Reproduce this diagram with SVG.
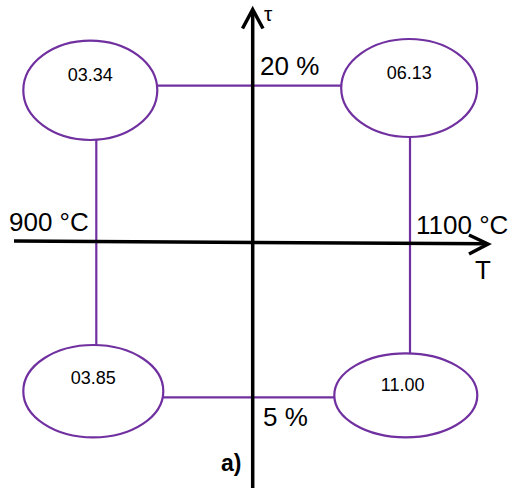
<svg xmlns="http://www.w3.org/2000/svg" width="514" height="488" viewBox="0 0 514 488">
<style>
.node{fill:#fff;stroke:#7030A0;stroke-width:2.2}
.link{stroke:#7030A0;stroke-width:2.2;fill:none}
.axis{stroke:#000;stroke-width:3.5;fill:none;stroke-linecap:butt}
.head{stroke:#000;stroke-width:3.5;fill:none;stroke-linejoin:miter}
.nt{font-family:"Liberation Sans",Arial,sans-serif;font-size:18px;fill:#000;text-anchor:middle}
.lbl{font-family:"Liberation Sans",Arial,sans-serif;font-size:26px;fill:#000}
</style>
<rect width="514" height="488" fill="#fff"/>
<g id="connectors">
<line class="link" x1="157" y1="85.7" x2="341" y2="85.7"/>
<line class="link" x1="163" y1="397.3" x2="334" y2="397.3"/>
<line class="link" x1="96.3" y1="140" x2="96.3" y2="345"/>
<line class="link" x1="410" y1="137" x2="410" y2="353.5"/>
</g>
<g id="axes">
<line class="axis" x1="252.7" y1="10" x2="252.7" y2="488"/>
<polyline class="head" points="242.5,28.5 252.7,9.5 263,28.5"/>
<line class="axis" x1="14" y1="241" x2="488" y2="243.8"/>
<polyline class="head" points="469,235 488,244 469,254"/>
</g>
<g id="n1"><ellipse class="node" cx="90.3" cy="90.3" rx="67" ry="49.7"/><text class="nt" x="90.3" y="81">03.34</text></g>
<g id="n2"><ellipse class="node" cx="409.2" cy="88" rx="68" ry="49"/><text class="nt" x="409.2" y="79">06.13</text></g>
<g id="n3"><ellipse class="node" cx="93.3" cy="391.2" rx="70" ry="46.2"/><text class="nt" x="93.3" y="384">03.85</text></g>
<g id="n4"><ellipse class="node" cx="405.8" cy="395.3" rx="71.5" ry="42"/><text class="nt" x="402.7" y="391">11.00</text></g>
<g id="labels">
<text class="lbl" x="264" y="21" style="font-size:21px">τ</text>
<text class="lbl" x="260" y="75">20 %</text>
<text class="lbl" x="9" y="231">900 °C</text>
<text class="lbl" x="416" y="234">1100 °C</text>
<text class="lbl" x="475" y="279">T</text>
<text class="lbl" x="263" y="426">5 %</text>
<text class="lbl" x="221" y="471" style="font-weight:bold;font-size:23px">a)</text>
</g>
</svg>
